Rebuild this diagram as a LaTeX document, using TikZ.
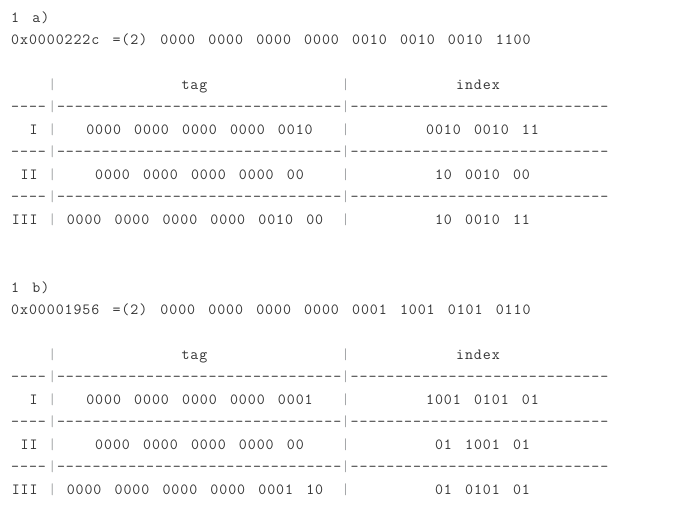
\documentclass[tikz,border=0pt]{standalone}
\usepackage{fontspec}
\setmonofont{Latin Modern Mono}[LetterSpace=6,WordSpace=1.48]
\definecolor{codetext}{HTML}{333333}
\definecolor{pipegray}{HTML}{A4A6A8}
\tikzset{
  codecell/.style={inner sep=0pt, anchor=base, text=codetext,
    font=\ttfamily\fontsize{15.5}{17}\selectfont},
  lcell/.style={codecell, anchor=base west},
  rcell/.style={codecell, anchor=base east},
  pipebar/.style={codecell, text=pipegray},
}
\newcommand{\dashrun}[1]{\foreach \dd in {1,...,#1}{-}}

\begin{document}
\begin{tikzpicture}[x=1pt,y=-1pt]
\useasboundingbox (0,0) rectangle (691,530);
% frame shared by both parts
\foreach \yo/\p in {0/a,270/b}{
  \foreach \k in {3,...,9}{
    \pgfmathsetmacro\yy{22+22.45*\k+\yo}
    \node[pipebar] (\p-pl\k) at (52.3,\yy) {|};
    \node[pipebar] (\p-pr\k) at (345.7,\yy) {|};
  }
  \foreach \k in {4,6,8}{
    \pgfmathsetmacro\yy{22+22.45*\k+\yo}
    \node[lcell] (\p-da\k) at (11,\yy) {\dashrun{4}};
    \node[lcell] (\p-db\k) at (56.8,\yy) {\dashrun{32}};
    \node[lcell] (\p-dc\k) at (350.5,\yy) {\dashrun{29}};
  }
  \foreach \k/\lab in {5/I,7/II,9/III}{
    \pgfmathsetmacro\yy{22+22.45*\k+\yo}
    \node[rcell] (\p-\lab) at (37.8,\yy) {\lab};
  }
  \pgfmathsetmacro\yy{22+22.45*3+\yo}
  \node[codecell] (\p-tag) at (194.5,\yy) {tag};
  \node[codecell] (\p-index) at (478,\yy) {index};
}
% 1 a)
\node[lcell] (a-title) at (11,22) {1 a)};
\node[lcell] (a-bin) at (11,44.5) {0x0000222c =(2) 0000 0000 0000 0000 0010 0010 0010 1100};
\node[codecell] (a-tag1) at (199.5,134.2) {0000 0000 0000 0000 0010};
\node[codecell] (a-idx1) at (482.5,134.2) {0010 0010 11};
\node[codecell] (a-tag2) at (199.5,179.1) {0000 0000 0000 0000 00};
\node[codecell] (a-idx2) at (482.5,179.1) {10 0010 00};
\node[codecell] (a-tag3) at (195,224) {0000 0000 0000 0000 0010 00};
\node[codecell] (a-idx3) at (482.5,224) {10 0010 11};
% 1 b)
\node[lcell] (b-title) at (11,292) {1 b)};
\node[lcell] (b-bin) at (11,314.5) {0x00001956 =(2) 0000 0000 0000 0000 0001 1001 0101 0110};
\node[codecell] (b-tag1) at (199.5,404.2) {0000 0000 0000 0000 0001};
\node[codecell] (b-idx1) at (482.5,404.2) {1001 0101 01};
\node[codecell] (b-tag2) at (199.5,449.1) {0000 0000 0000 0000 00};
\node[codecell] (b-idx2) at (482.5,449.1) {01 1001 01};
\node[codecell] (b-tag3) at (195,494) {0000 0000 0000 0000 0001 10};
\node[codecell] (b-idx3) at (482.5,494) {01 0101 01};
\end{tikzpicture}
\end{document}
